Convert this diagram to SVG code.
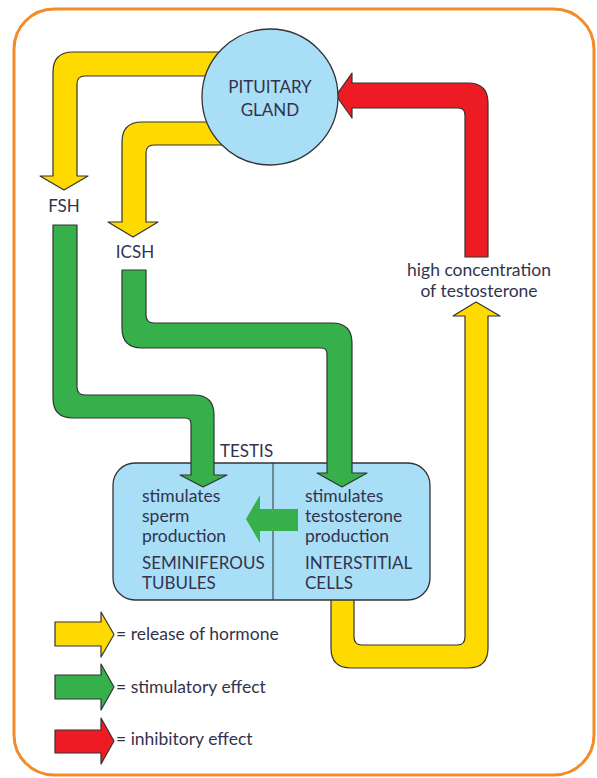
<svg xmlns="http://www.w3.org/2000/svg" width="597" height="778" viewBox="0 0 597 778">
<style>
.t{font-family:Lato,"Open Sans",sans-serif;fill:#33334d;font-size:17.5px}
.c{font-size:17px}
.m{text-anchor:middle}
.y{fill:#FFDA00;stroke:#333;stroke-width:1.2;stroke-linejoin:round}
.g{fill:#35B04A;stroke:#333;stroke-width:1.2;stroke-linejoin:round}
.r{fill:#ED1C24;stroke:#333;stroke-width:1.2;stroke-linejoin:round}
</style>
<rect x="0" y="0" width="597" height="778" fill="#fff"/>
<rect x="14" y="9" width="580" height="766" rx="40" fill="none" stroke="#F28C28" stroke-width="3"/>
<g id="connectors-back">
<path class="y" d="M 250 52 L 73 52 Q 53 52 53 72 L 53 176 L 40 176 L 64 190 L 88 176 L 77 176 L 77 84 Q 77 76 85 76 L 250 76 Z"/>
<path class="y" d="M 250 122 L 142 122 Q 122 122 122 142 L 122 222 L 108 222 L 133 237 L 158 222 L 146 222 L 146 153 Q 146 145 154 145 L 250 145 Z"/>
<path class="r" d="M 488 257 L 488 103 Q 488 83 468 83 L 352 83 L 352 73 L 336 95.5 L 352 118 L 352 108 L 458 108 Q 465 108 465 115 L 465 257 Z"/>
<path class="y" d="M 465 316 L 453 316 L 476 302 L 500 316 L 488 316 L 488 648 Q 488 668 468 668 L 351 668 Q 331 668 331 648 L 331 590 L 354 590 L 354 637 Q 354 645 362 645 L 457 645 Q 465 645 465 637 Z"/>
</g>
<g id="pituitary">
<circle cx="270" cy="97" r="68" fill="#A9DEF7" stroke="#333" stroke-width="1.3"/>
<text class="t c m" x="270" y="93">PITUITARY</text>
<text class="t c m" x="270" y="116">GLAND</text>
</g>
<g id="fsh"><text class="t c m" x="64" y="212">FSH</text></g>
<g id="icsh"><text class="t c m" x="135" y="258">ICSH</text></g>
<g id="high">
<text class="t m" x="479" y="276">high concentration</text>
<text class="t m" x="479" y="297">of testosterone</text>
</g>
<g id="testis">
<rect x="113" y="463" width="317" height="137" rx="22" fill="#A9DEF7" stroke="#333" stroke-width="1.3"/>
<line x1="273" y1="463" x2="273" y2="600" stroke="#333" stroke-width="1"/>
<text class="t c" x="220" y="457">TESTIS</text>
<path fill="#35B04A" d="M 298 509 L 260 509 L 260 495 L 246 519 L 260 543 L 260 531 L 298 531 Z"/>
<g id="tubules">
<text class="t" x="142" y="502">stimulates</text>
<text class="t" x="142" y="522">sperm</text>
<text class="t" x="142" y="542">production</text>
<text class="t c" x="142" y="569">SEMINIFEROUS</text>
<text class="t c" x="142" y="589">TUBULES</text>
</g>
<g id="cells">
<text class="t" x="305" y="502">stimulates</text>
<text class="t" x="305" y="522">testosterone</text>
<text class="t" x="305" y="542">production</text>
<text class="t c" x="305" y="569">INTERSTITIAL</text>
<text class="t c" x="305" y="589">CELLS</text>
</g>
</g>
<g id="connectors-front">
<path class="g" d="M 53 225 L 53 398 Q 53 418 73 418 L 185 418 Q 191 418 191 424 L 191 475 L 180 475 L 203 487 L 227 475 L 214 475 L 214 415 Q 214 395 194 395 L 85 395 Q 77 395 77 387 L 77 225 Z"/>
<path class="g" d="M 122 270 L 122 328 Q 122 348 142 348 L 321 348 Q 327 348 327 354 L 327 473 L 317 473 L 342 487 L 367 473 L 352 473 L 352 343 Q 352 323 332 323 L 154 323 Q 146 323 146 315 L 146 270 Z"/>
</g>
<g id="legend">
<path class="y" d="M 55 622 L 101 622 L 101 612 L 114 634.5 L 101 657 L 101 646 L 55 646 Z"/>
<text class="t" x="116" y="640">= release of hormone</text>
<path class="g" d="M 55 675 L 101 675 L 101 664 L 114 687 L 101 710 L 101 699 L 55 699 Z"/>
<text class="t" x="116" y="693">= stimulatory effect</text>
<path class="r" d="M 55 730 L 101 730 L 101 718 L 114 741 L 101 764 L 101 753 L 55 753 Z"/>
<text class="t" x="116" y="745">= inhibitory effect</text>
</g>
</svg>
